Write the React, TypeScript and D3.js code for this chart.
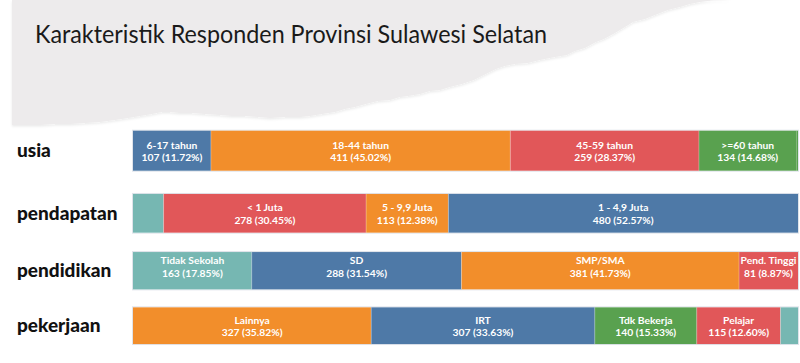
import React from "react";
import * as d3 from "d3";

// ---- data ----
const rows = ["usia", "pendapatan", "pendidikan", "pekerjaan"];

const usiaCategories = ["6-17 tahun", "18-44 tahun", "45-59 tahun", ">=60 tahun", "Tidak diketahui"];
const usiaValues = [107, 411, 259, 134, 2];

const pendapatanCategories = ["Tidak diketahui", "< 1 Juta", "5 - 9,9 Juta", "1 - 4,9 Juta"];
const pendapatanValues = [42, 278, 113, 480];

const pendidikanCategories = ["Tidak Sekolah", "SD", "SMP/SMA", "Pend. Tinggi"];
const pendidikanValues = [163, 288, 381, 81];

const pekerjaanCategories = ["Lainnya", "IRT", "Tdk Bekerja", "Pelajar", "Lain-lain"];
const pekerjaanValues = [327, 307, 140, 115, 24];

const title = "Karakteristik Responden Provinsi Sulawesi Selatan";

// ---- styles ----
const BLUE = "#4e79a7";
const ORANGE = "#f28e2b";
const RED = "#e15759";
const GREEN = "#59a14f";
const TEAL = "#76b7b2";

const rowColors: Record<string, string[]> = {
  usia: [BLUE, ORANGE, RED, GREEN, GREEN],
  pendapatan: [TEAL, RED, ORANGE, BLUE],
  pendidikan: [TEAL, BLUE, ORANGE, RED],
  pekerjaan: [ORANGE, BLUE, GREEN, RED, TEAL],
};

const rowData: Record<string, { cats: string[]; vals: number[] }> = {
  usia: { cats: usiaCategories, vals: usiaValues },
  pendapatan: { cats: pendapatanCategories, vals: pendapatanValues },
  pendidikan: { cats: pendidikanCategories, vals: pendidikanValues },
  pekerjaan: { cats: pekerjaanCategories, vals: pekerjaanValues },
};

// label line offsets (relative to row centre)
const labelOffsets: Record<string, [number, number]> = {
  usia: [-5.5, 6.5],
  pendapatan: [-6, 6.5],
  pendidikan: [-10.5, 2.5],
  pekerjaan: [-6, 6],
};

const W = 800;
const H = 363;

// torn paper edge (decorative background)
const tornEdge: [number, number][] = [
  [12, 0], [733, 0], [712, 0.5], [700, 2], [690, 4], [680, 7], [668, 10], [655, 15], [645, 19],
  [633, 22], [625, 27], [615, 33], [604, 39], [596, 42], [585, 48], [575, 51], [567, 55],
  [555, 57], [540, 60], [528, 63], [515, 64], [505, 66], [496, 69], [486, 74], [474, 80],
  [462, 84], [450, 87], [440, 90], [430, 91], [420, 94], [408, 96], [400, 97], [390, 100],
  [378, 101], [366, 104], [355, 107], [345, 109], [335, 112], [322, 114], [310, 116],
  [300, 117], [285, 117], [270, 118], [258, 117], [245, 116], [232, 116], [220, 115],
  [205, 114], [192, 113], [180, 113], [170, 112], [162, 112], [152, 114], [140, 116],
  [128, 118], [115, 120], [100, 122], [85, 123], [70, 124], [55, 124], [40, 125],
  [25, 125], [12, 125],
];

export default function App() {
  const x = d3.scaleLinear().domain([0, d3.sum(usiaValues)]).range([133, 798]);
  const y = d3.scaleOrdinal<string, number>().domain(rows).range([150.7, 213.3, 270.7, 325.7]);
  const barH = d3.scaleOrdinal<string, number>().domain(rows).range([40, 38.7, 37.3, 36.7]);
  const fmt = d3.format(".2f");
  const line = d3.line();

  return (
    <svg
      width={W}
      height={H}
      style={{ position: "absolute", left: 0, top: 0, background: "#ffffff" }}
    >
      <defs>
        <filter id="shadow" x="-5%" y="-5%" width="110%" height="120%">
          <feDropShadow dx="0" dy="1.5" stdDeviation="1.2" floodColor="#000" floodOpacity="0.08" />
        </filter>
      </defs>
      <path d={line(tornEdge) + "Z"} fill="#edebec" filter="url(#shadow)" />
      <text
        x={35}
        y={43}
        fontFamily="Lato, 'Open Sans', sans-serif"
        fontSize={24.5}
        fill="#1a1a1a"
        textLength={512}
        lengthAdjust="spacingAndGlyphs"
      >
        {title}
      </text>

      {rows.map((r) => {
        const { cats, vals } = rowData[r];
        const total = d3.sum(vals);
        const cum = d3.cumsum(vals);
        const h = barH(r);
        const cy = y(r);
        const top = cy - h / 2;
        const xs = d3.scaleLinear().domain([0, total]).range(x.range());
        const [o1, o2] = labelOffsets[r];
        return (
          <g key={r}>
            <text
              x={17}
              y={cy + 6.5}
              fontFamily="Lato, 'Open Sans', sans-serif"
              fontWeight={900}
              fontSize={19}
              fill="#111"
            >
              {r}
            </text>
            <rect
              x={xs(0) - 0.5}
              y={top - 0.5}
              width={xs(total) - xs(0) + 1}
              height={h + 1}
              fill="none"
              stroke="#dfe3ea"
              strokeWidth={1}
            />
            {vals.map((v, i) => {
              const x0 = xs(cum[i] - v);
              const x1 = xs(cum[i]);
              const w = x1 - x0;
              const mid = (x0 + x1) / 2;
              const pct = fmt((v / total) * 100);
              return (
                <g key={cats[i]}>
                  <rect x={x0} y={top} width={w} height={h} fill={rowColors[r][i]} />
                  {i > 0 && w > 3 && (
                    <line x1={x0} x2={x0} y1={top} y2={top + h} stroke="#ffffff" strokeOpacity={0.35} strokeWidth={0.8} />
                  )}
                  {w > 40 && (
                    <g
                      fontFamily="Lato, 'Open Sans', sans-serif"
                      fontWeight={700}
                      fontSize={10.3}
                      fill="#ffffff"
                      textAnchor="middle"
                      dominantBaseline="central"
                    >
                      <text x={mid} y={cy + o1}>{cats[i]}</text>
                      <text x={mid} y={cy + o2}>{`${v} (${pct}%)`}</text>
                    </g>
                  )}
                </g>
              );
            })}
          </g>
        );
      })}
    </svg>
  );
}
